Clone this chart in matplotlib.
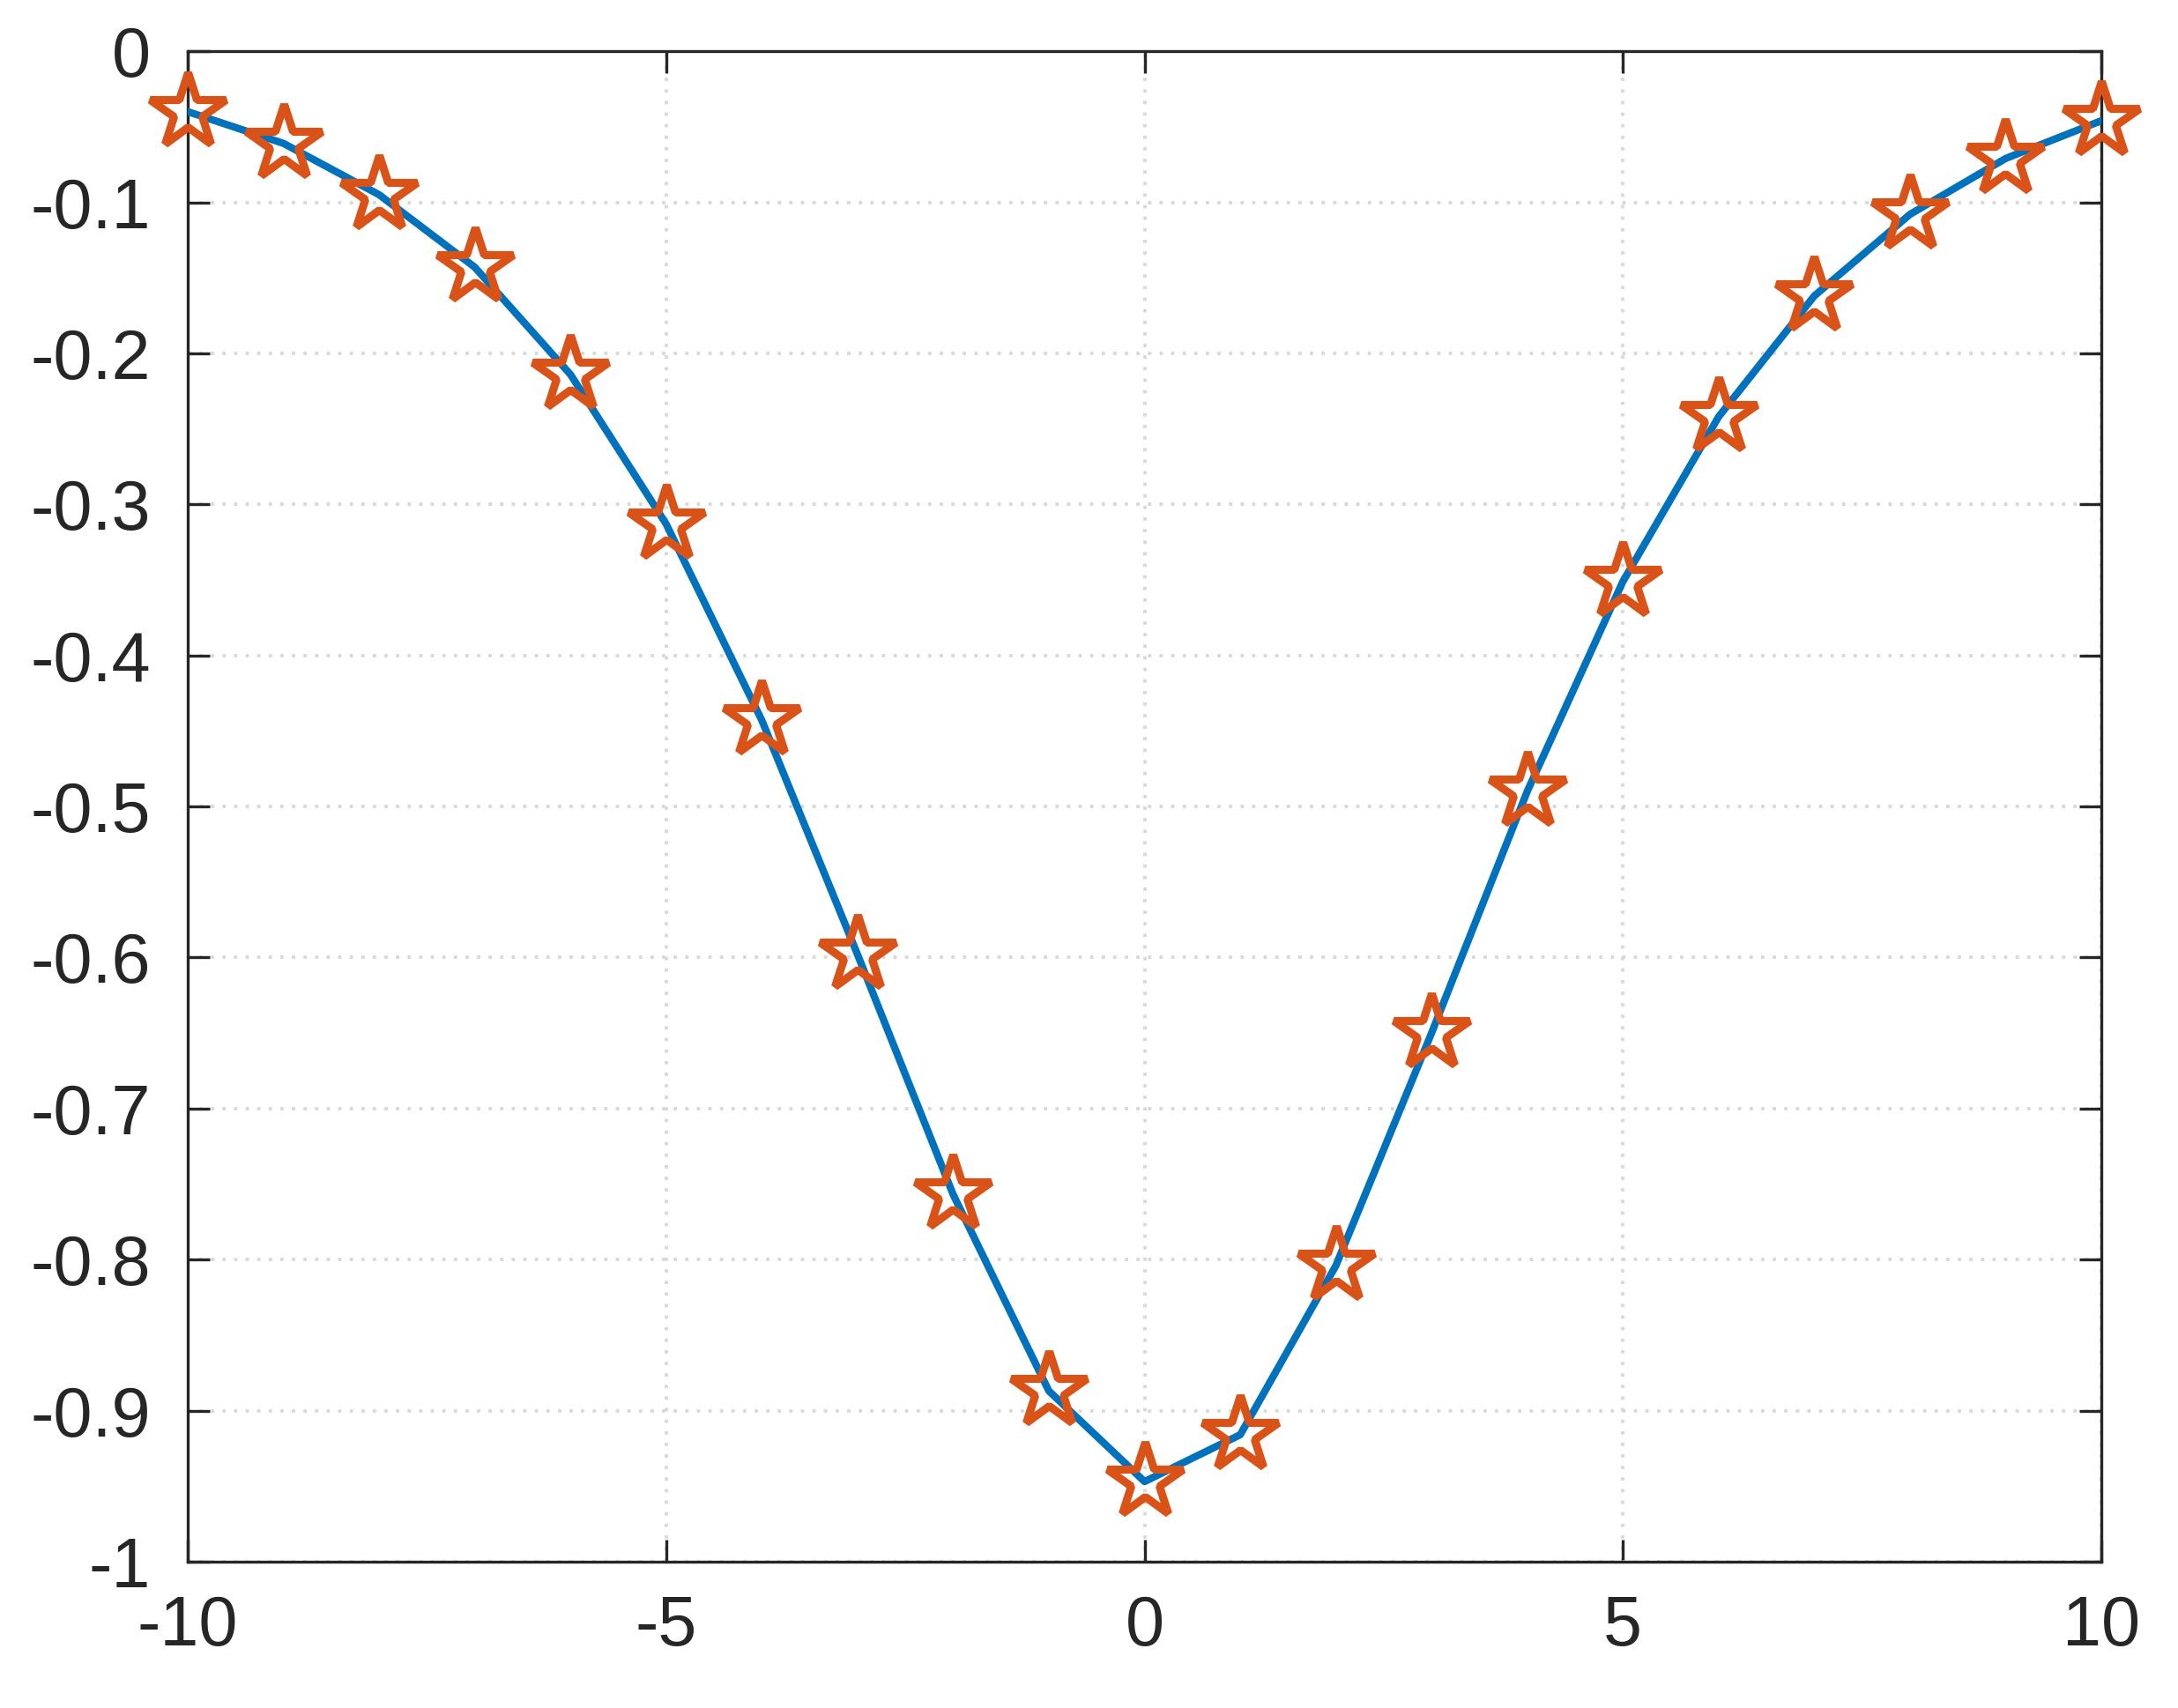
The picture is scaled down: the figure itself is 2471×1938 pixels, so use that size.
import matplotlib
matplotlib.use('Agg')
import matplotlib.pyplot as plt

# sample points and values
x = [-10, -9, -8, -7, -6, -5, -4, -3, -2, -1, 0, 1, 2, 3, 4, 5, 6, 7, 8, 9, 10]
y = [-0.040, -0.061, -0.095, -0.143, -0.214, -0.313, -0.443, -0.598, -0.757,
     -0.887, -0.947, -0.916, -0.804, -0.650, -0.490, -0.351, -0.242, -0.162,
     -0.108, -0.071, -0.046]

xticks = [-10, -5, 0, 5, 10]
yticks = [0, -0.1, -0.2, -0.3, -0.4, -0.5, -0.6, -0.7, -0.8, -0.9, -1]
ytick_labels = ['0', '-0.1', '-0.2', '-0.3', '-0.4', '-0.5', '-0.6', '-0.7', '-0.8', '-0.9', '-1']

plt.rcParams['font.family'] = ['Liberation Sans', 'DejaVu Sans']
text_col = '#262626'

fig = plt.figure(figsize=(2471 / 300, 1938 / 300), dpi=300)
ax = fig.add_axes([0.0862, 0.0857, 0.8786, 0.8843])

ax.plot(x, y, color='#0072BD', lw=2.0, zorder=3)
ax.plot(x, y, ls='none', marker='*', ms=21.5, mfc='none', mec='#D95319', mew=2.2,
        zorder=4, clip_on=False)

ax.set_xlim(-10, 10)
ax.set_ylim(-1, 0)
ax.set_xticks(xticks)
ax.set_xticklabels([str(t) for t in xticks])
ax.set_yticks(yticks)
ax.set_yticklabels(ytick_labels)

ax.grid(True, color='#d8d8d8', ls=(0, (1, 2.5)), lw=0.9)
ax.set_axisbelow(True)

for s in ax.spines.values():
    s.set_color(text_col)
    s.set_linewidth(0.8)
ax.tick_params(direction='in', length=6, width=0.8, color=text_col,
               top=True, right=True, labelsize=19, labelcolor=text_col)
ax.tick_params(axis='x', pad=9)
ax.tick_params(axis='y', pad=10)

fig.savefig('out.png', dpi=300)
